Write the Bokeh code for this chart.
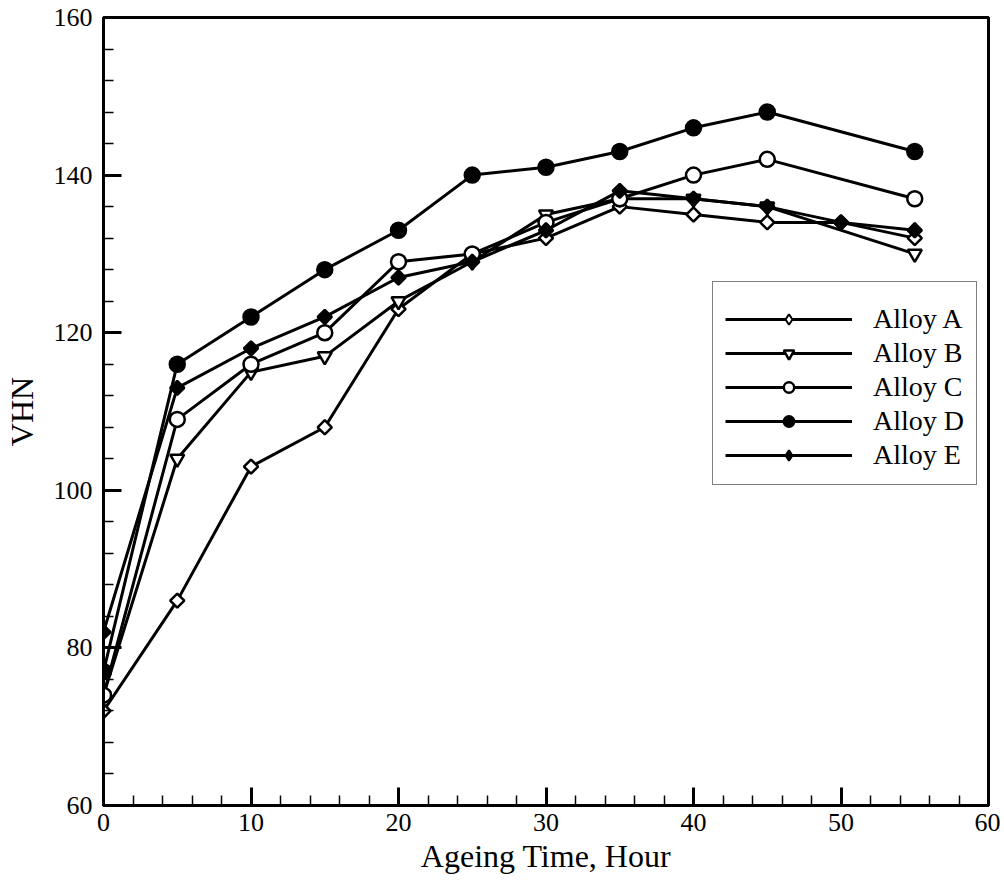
import numpy as np
from bokeh.plotting import figure
from bokeh.models import FixedTicker, Legend, LegendItem, Range1d
from bokeh.embed import file_html
from bokeh.resources import INLINE

# ---- data ----
hours_A = [0, 5, 10, 15, 20, 25, 30, 35, 40, 45, 50, 55]
vhn_A = [72, 86, 103, 108, 123, 130, 132, 136, 135, 134, 134, 132]

hours_B = [0, 5, 10, 15, 20, 25, 30, 35, 40, 45, 55]
vhn_B = [74, 104, 115, 117, 124, 129, 135, 137, 137, 136, 130]

hours_C = [0, 5, 10, 15, 20, 25, 30, 35, 40, 45, 55]
vhn_C = [74, 109, 116, 120, 129, 130, 134, 137, 140, 142, 137]

hours_D = [0, 5, 10, 15, 20, 25, 30, 35, 40, 45, 55]
vhn_D = [77, 116, 122, 128, 133, 140, 141, 143, 146, 148, 143]

hours_E = [0, 5, 10, 15, 20, 25, 30, 35, 40, 45, 50, 55]
vhn_E = [82, 113, 118, 122, 127, 129, 133, 138, 137, 136, 134, 133]

series_names = ["Alloy A", "Alloy B", "Alloy C", "Alloy D", "Alloy E"]
x_ticks = [0, 10, 20, 30, 40, 50, 60]
y_ticks = [60, 80, 100, 120, 140, 160]

FONT = "Liberation Serif"

p = figure(width=1000, height=884, output_backend="svg", toolbar_location=None,
           x_range=Range1d(0, 60), y_range=Range1d(60, 160),
           min_border_left=103, min_border_right=12, min_border_top=17,
           min_border_bottom=79)
p.grid.visible = False
p.outline_line_color = "black"
p.outline_line_width = 3
p.outline_line_alpha = 1.0
p.background_fill_color = "white"
p.border_fill_color = "white"

p.xaxis.ticker = FixedTicker(ticks=x_ticks, minor_ticks=list(range(0, 61, 2)))
p.yaxis.ticker = FixedTicker(ticks=y_ticks, minor_ticks=list(range(60, 161, 4)))

for ax in (p.xaxis[0], p.yaxis[0]):
    ax.axis_line_width = 3
    ax.axis_line_color = "black"
    ax.major_tick_in = 18
    ax.major_tick_out = 0
    ax.minor_tick_in = 10
    ax.minor_tick_out = 0
    ax.major_tick_line_width = 3
    ax.minor_tick_line_width = 1.5
    ax.major_tick_line_color = "black"
    ax.minor_tick_line_color = "black"
    ax.major_label_text_font = FONT
    ax.major_label_text_font_size = "26px"
    ax.major_label_text_color = "black"
    ax.axis_label_text_font = FONT
    ax.axis_label_text_font_size = "32px"
    ax.axis_label_text_font_style = "normal"
    ax.axis_label_text_color = "black"

p.xaxis.axis_label = "Ageing Time, Hour"
p.yaxis.axis_label = "VHN"
p.xaxis.major_label_standoff = 8
p.xaxis.axis_label_standoff = 4
p.yaxis.major_label_standoff = 11
p.yaxis.axis_label_standoff = 11

LW = 3
items = []
# a point far outside the visible ranges, used only for legend-swatch glyphs
hidden_x = [-1000]
hidden_y = [-1000]

def add_series(xs, ys, name, marker, filled, size, angle=0.0, legend_marker=None):
    fill = "black" if filled else "white"
    ln = p.line(xs, ys, line_color="black", line_width=LW)
    sc = p.scatter(xs, ys, marker=marker, size=size, angle=angle,
                   line_color="black", line_width=2.5, fill_color=fill)
    if legend_marker is not None:
        lg = p.scatter(x=hidden_x, y=hidden_y, marker=legend_marker, size=size,
                       line_color="black", line_width=2, fill_color=fill)
        items.append(LegendItem(label=name, renderers=[ln, lg]))
    else:
        items.append(LegendItem(label=name, renderers=[ln, sc]))

add_series(hours_A, vhn_A, series_names[0], "square", False, 10, np.pi / 4, "diamond")
add_series(hours_B, vhn_B, series_names[1], "inverted_triangle", False, 14)
add_series(hours_C, vhn_C, series_names[2], "circle", False, 15)
add_series(hours_D, vhn_D, series_names[3], "circle", True, 15)
add_series(hours_E, vhn_E, series_names[4], "square", True, 10, np.pi / 4, "diamond")

legend = Legend(items=items, location=(609, 320), orientation="vertical",
                title=" ", title_text_font_size="6px", title_standoff=2,
                padding=12, spacing=0, margin=0,
                label_height=34, glyph_height=26, glyph_width=127,
                label_standoff=21,
                label_text_font=FONT, label_text_font_size="28px",
                label_text_color="black",
                border_line_color="black", border_line_width=1,
                background_fill_color="white", background_fill_alpha=1.0)
p.add_layout(legend, "center")

open("out.html", "w").write(file_html(p, INLINE))
